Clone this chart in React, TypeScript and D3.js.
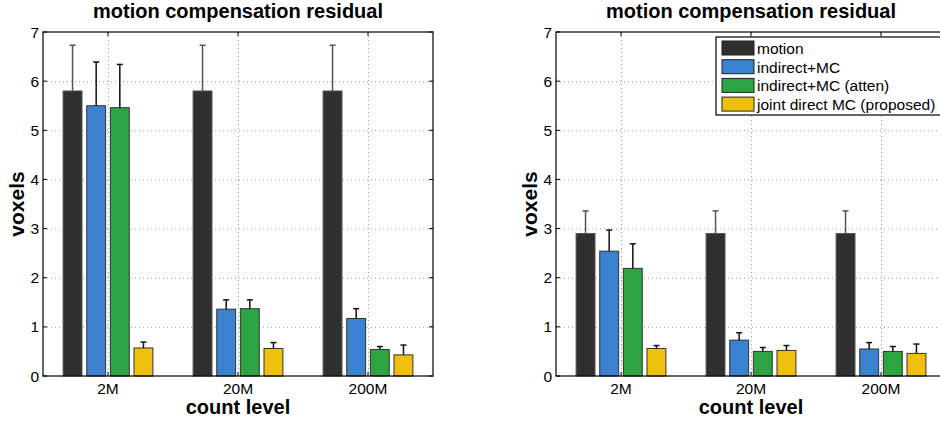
import React from "react";
import * as d3 from "d3";

const categories = ["2M", "20M", "200M"];
const seriesNames = ["motion", "indirect+MC", "indirect+MC (atten)", "joint direct MC (proposed)"];
const seriesColors = ["#2f2f2f", "#3a82d0", "#2ca442", "#efc00e"];
const errColors = ["#555555", "#111111", "#111111", "#111111"];

// left panel: means and upper error-bar lengths per series (rows) and category (cols)
const leftMeans = [
  [5.8, 5.8, 5.8],
  [5.5, 1.36, 1.17],
  [5.46, 1.37, 0.54],
  [0.57, 0.56, 0.43],
];
const leftErr = [
  [0.93, 0.93, 0.93],
  [0.89, 0.19, 0.2],
  [0.88, 0.18, 0.06],
  [0.12, 0.12, 0.2],
];
const rightMeans = [
  [2.9, 2.9, 2.9],
  [2.54, 0.73, 0.55],
  [2.19, 0.5, 0.5],
  [0.56, 0.52, 0.46],
];
const rightErr = [
  [0.46, 0.46, 0.46],
  [0.43, 0.15, 0.13],
  [0.5, 0.08, 0.1],
  [0.06, 0.1, 0.19],
];
const yTicks = [0, 1, 2, 3, 4, 5, 6, 7];
const titleText = "motion compensation residual";
const yLabel = "voxels";
const xLabel = "count level";

const FONT = "'Liberation Sans', Arial, Helvetica, sans-serif";

type PanelProps = {
  left: number;
  right: number;
  means: number[][];
  errs: number[][];
  showLegend: boolean;
};

function Panel({ left, right, means, errs, showLegend }: PanelProps) {
  const top = 32;
  const bottom = 376;
  const x = d3.scaleLinear().domain([0.5, 3.5]).range([left, right]);
  const y = d3.scaleLinear().domain([0, 7]).range([bottom, top]);
  const groupWidth = Math.min(0.8, 4 / (4 + 1.5));
  const slot = groupWidth / 4;
  const barW = slot * 0.8;
  const px = (v: number) => x(v) - x(0);
  const tickLen = 4;
  const cx = (left + right) / 2;

  return (
    <g fontFamily={FONT}>
      <g stroke="#9a9a9a" strokeWidth={1} strokeDasharray="1,3">
        {yTicks.slice(1, -1).map((t) => (
          <line key={"gy" + t} x1={left} x2={right} y1={y(t) + 0.5} y2={y(t) + 0.5} />
        ))}
        {categories.map((c, i) => (
          <line key={"gx" + c} x1={x(i + 1) + 0.5} x2={x(i + 1) + 0.5} y1={top} y2={bottom} />
        ))}
      </g>
      {means.map((row, s) =>
        row.map((v, g) => {
          const center = g + 1 + (s - 1.5) * slot;
          const bx = x(center - barW / 2);
          return (
            <rect
              key={`b${s}-${g}`}
              x={bx}
              y={y(v)}
              width={px(barW)}
              height={y(0) - y(v)}
              fill={seriesColors[s]}
              stroke={s === 0 ? "#555" : "#333"}
              strokeWidth={1}
            />
          );
        })
      )}
      {means.map((row, s) =>
        row.map((v, g) => {
          const center = x(g + 1 + (s - 1.5) * slot);
          const t = y(v + errs[s][g]);
          return (
            <g key={`e${s}-${g}`} stroke={errColors[s]} strokeWidth={1.5}>
              <line x1={center} x2={center} y1={y(v)} y2={t} />
              <line x1={center - 3} x2={center + 3} y1={t} y2={t} />
            </g>
          );
        })
      )}
      <rect x={left} y={top} width={right - left} height={bottom - top} fill="none" stroke="#000" strokeWidth={1.2} />
      <g stroke="#000" strokeWidth={1}>
        {yTicks.map((t) => (
          <g key={"ty" + t}>
            <line x1={left} x2={left + tickLen} y1={y(t)} y2={y(t)} />
            <line x1={right} x2={right - tickLen} y1={y(t)} y2={y(t)} />
          </g>
        ))}
        {categories.map((c, i) => (
          <g key={"tx" + c}>
            <line x1={x(i + 1)} x2={x(i + 1)} y1={bottom} y2={bottom - tickLen} />
            <line x1={x(i + 1)} x2={x(i + 1)} y1={top} y2={top + tickLen} />
          </g>
        ))}
      </g>
      <g fontSize={15.5} fill="#000">
        {yTicks.map((t) => (
          <text key={"ly" + t} x={left - 4} y={y(t) + 5.5} textAnchor="end">
            {t}
          </text>
        ))}
        {categories.map((c, i) => (
          <text key={"lx" + c} x={x(i + 1)} y={394} textAnchor="middle">
            {c}
          </text>
        ))}
      </g>
      <text x={cx} y={18} textAnchor="middle" fontSize={20} fontWeight="bold">
        {titleText}
      </text>
      <text x={cx} y={414} textAnchor="middle" fontSize={20} fontWeight="bold">
        {xLabel}
      </text>
      <text
        transform={`translate(${left - 19},${(top + bottom) / 2}) rotate(-90)`}
        textAnchor="middle"
        fontSize={21}
        fontWeight="bold"
      >
        {yLabel}
      </text>
      {showLegend && (
        <g>
          <rect x={716} y={37} width={228} height={78} fill="#fff" stroke="#000" strokeWidth={1.2} />
          {seriesNames.map((n, i) => (
            <g key={"lg" + i}>
              <rect x={722} y={41 + i * 18.7} width={32} height={14} fill={seriesColors[i]} stroke="#222" strokeWidth={1} />
              <text x={757} y={54 + i * 18.7} fontSize={15.5} fill="#000">
                {n}
              </text>
            </g>
          ))}
        </g>
      )}
    </g>
  );
}

export default function App() {
  return (
    <svg width={940} height={421} style={{ position: "absolute", left: 0, top: 0, background: "#fff" }}>
      <rect width={940} height={421} fill="#fff" />
      <Panel left={43} right={433} means={leftMeans} errs={leftErr} showLegend={false} />
      <Panel left={556} right={946} means={rightMeans} errs={rightErr} showLegend={true} />
    </svg>
  );
}
